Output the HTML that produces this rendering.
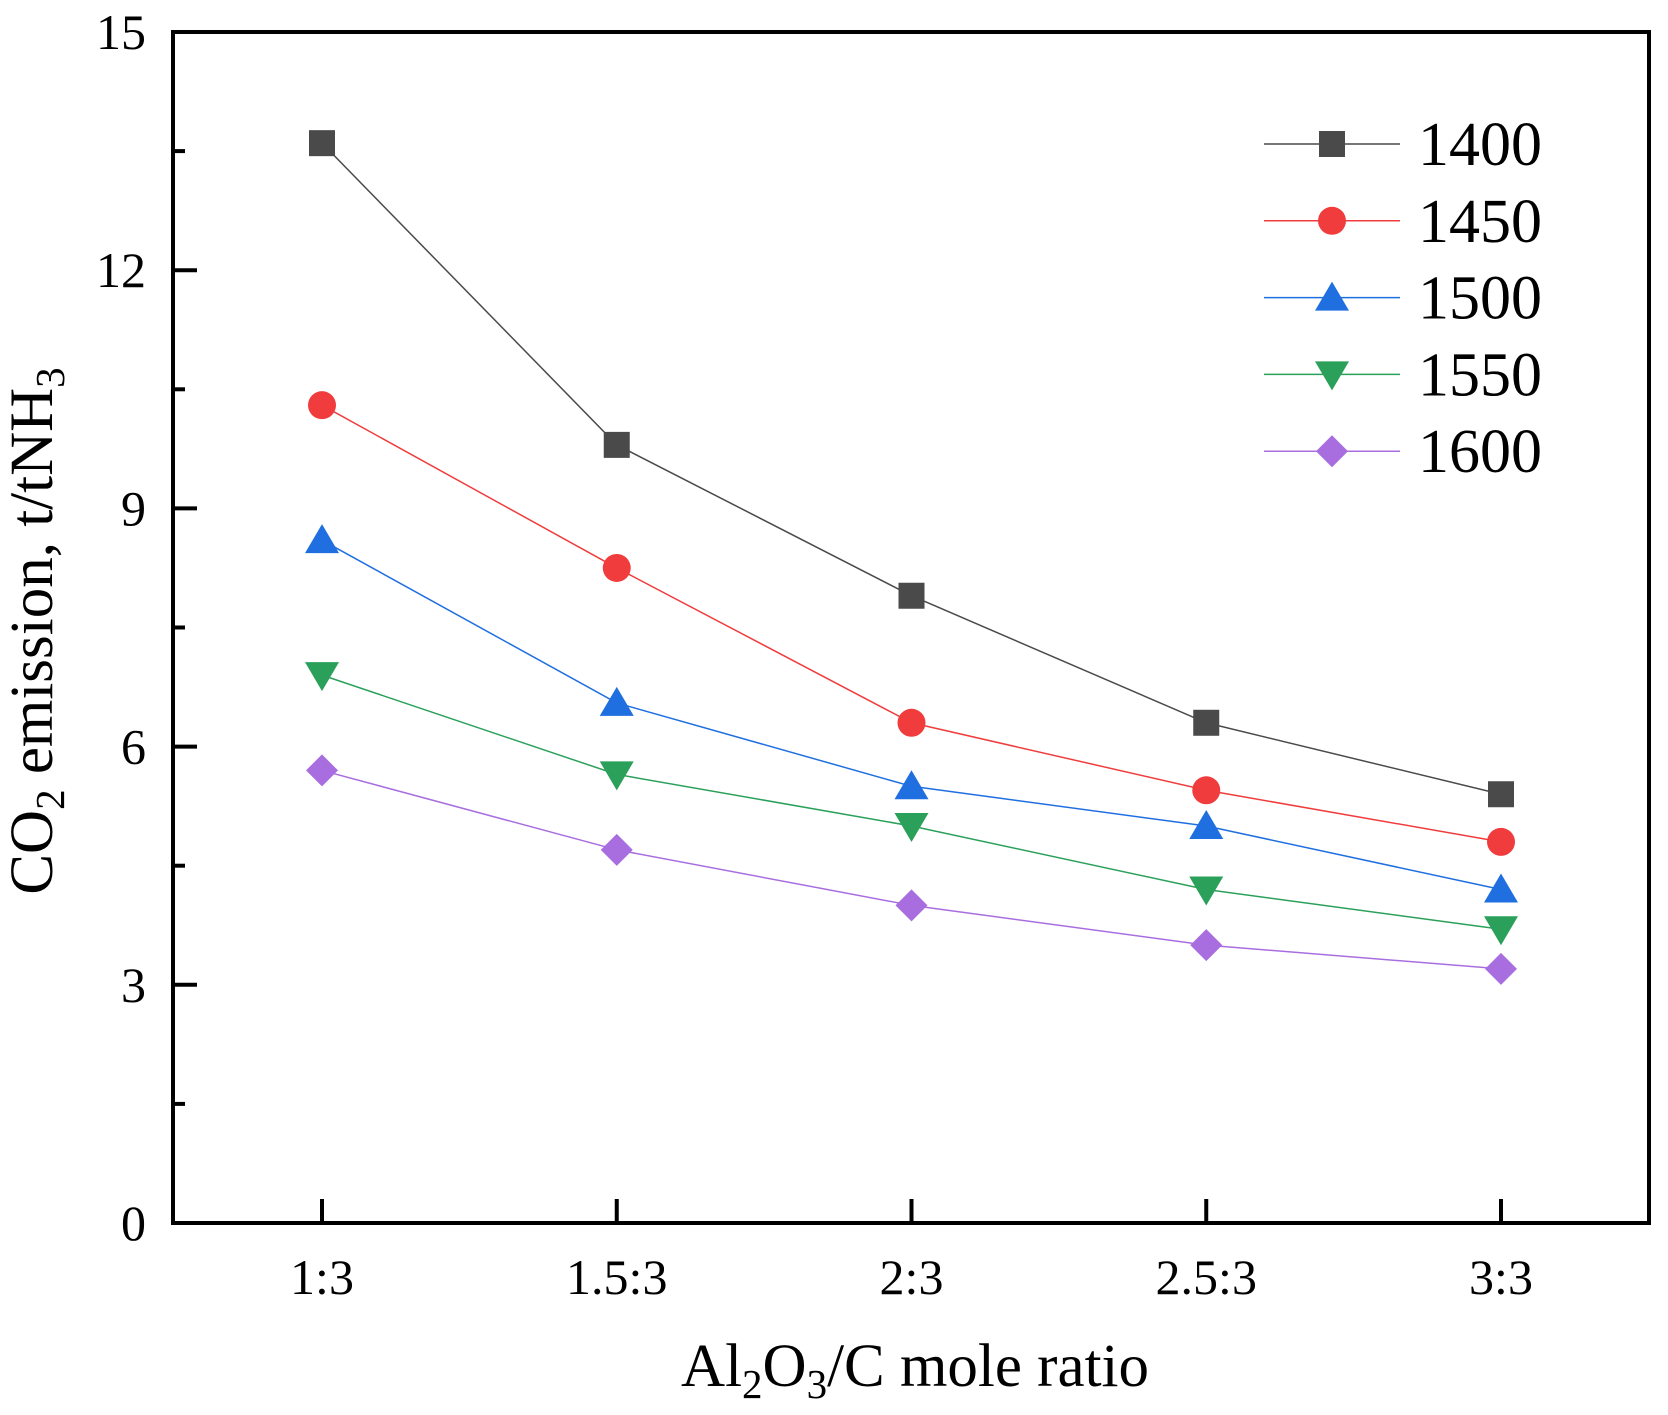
<!DOCTYPE html>
<html><head><meta charset="utf-8"><style>
html,body{margin:0;padding:0;background:#fff}
svg{display:block;font-family:"Liberation Serif",serif}
</style></head><body>
<svg id="chart" width="1668" height="1415" viewBox="0 0 1668 1415">
<g id="axes"></g><g id="series"></g><g id="legend"></g>
<text x="52" y="631" font-size="61" text-anchor="middle" transform="rotate(-90 52 631)">CO<tspan font-size="41" dy="12">2</tspan><tspan dy="-12"> emission, t/tNH</tspan><tspan font-size="41" dy="12">3</tspan></text>
<text x="915" y="1386" font-size="61" text-anchor="middle">Al<tspan font-size="41" dy="12">2</tspan><tspan dy="-12">O</tspan><tspan font-size="41" dy="12">3</tspan><tspan dy="-12">/C mole ratio</tspan></text>
</svg>
<script>
const categories=["1:3","1.5:3","2:3","2.5:3","3:3"];
const yTicks=[0,3,6,9,12,15];
const seriesNames=["1400","1450","1500","1550","1600"];
const s1400=[13.6,9.8,7.9,6.3,5.4];
const s1450=[10.3,8.25,6.3,5.45,4.8];
const s1500=[8.6,6.55,5.5,5.0,4.2];
const s1550=[6.9,5.65,5.0,4.2,3.7];
const s1600=[5.7,4.7,4.0,3.5,3.2];
const seriesData=[s1400,s1450,s1500,s1550,s1600];
const colors=["#4a4a4a","#f03c3c","#1f6fe0","#2aa05a","#a86ee0"];
const markers=["square","circle","up","down","diamond"];
const NS="http://www.w3.org/2000/svg";
const L=173,R=1649,T=32,B=1223;
const x=i=>322+i*(1501-322)/(categories.length-1);
const y=v=>B-(v/15)*(B-T);
function mk(tag,attrs,parent){const e=document.createElementNS(NS,tag);for(const k in attrs)e.setAttribute(k,attrs[k]);parent.appendChild(e);return e;}
const ax=document.getElementById('axes');
const frame=mk('rect',{x:L,y:T,width:R-L,height:B-T,fill:'none',stroke:'#000','stroke-width':4},ax);


yTicks.forEach(v=>{
 const t=mk('line',{x1:L,x2:L+24,y1:y(v),y2:y(v),stroke:'#000','stroke-width':4},ax);
 
 
 const lb=mk('text',{x:146,y:y(v)+17,'font-size':50,'text-anchor':'end'},ax);lb.textContent=v;
 
 
 if(v<15){const m=mk('line',{x1:L,x2:L+12,y1:y(v+1.5),y2:y(v+1.5),stroke:'#000','stroke-width':4},ax);
 
 }
});
categories.forEach((c,i)=>{
 const t=mk('line',{x1:x(i),x2:x(i),y1:B,y2:B-24,stroke:'#000','stroke-width':4},ax);
 
 
 const lb=mk('text',{x:x(i),y:1294,'font-size':50,'text-anchor':'middle'},ax);lb.textContent=c;
 
 
});
function marker(type,cx,cy,col,parent){
 let e;
 if(type==='square')e=mk('rect',{x:cx-13,y:cy-13,width:26,height:26,fill:col},parent);
 else if(type==='circle')e=mk('circle',{cx:cx,cy:cy,r:14,fill:col},parent);
 else if(type==='up')e=mk('polygon',{points:`${cx},${cy-16} ${cx-17},${cy+13} ${cx+17},${cy+13}`,fill:col},parent);
 else if(type==='down')e=mk('polygon',{points:`${cx},${cy+16} ${cx-17},${cy-13} ${cx+17},${cy-13}`,fill:col},parent);
 else e=mk('polygon',{points:`${cx},${cy-16} ${cx+16},${cy} ${cx},${cy+16} ${cx-16},${cy}`,fill:col},parent);
 return e;
}
const sg=document.getElementById('series');
seriesData.forEach((d,si)=>{
 const g=mk('g',{},sg);
 
 
 const pl=mk('polyline',{points:d.map((v,i)=>x(i)+','+y(v)).join(' '),fill:'none',stroke:colors[si],'stroke-width':1.5},g);
 
 
 d.forEach((v,i)=>{const m=marker(markers[si],x(i),y(v),colors[si],g);
  
  });
});
const lg=document.getElementById('legend');
seriesNames.forEach((n,si)=>{
 const ly=144+si*76.8;
 const g=mk('g',{},lg);
 
 
 mk('line',{x1:1264,x2:1400,y1:ly,y2:ly,stroke:colors[si],'stroke-width':1.5},g);
 marker(markers[si],1332,ly,colors[si],g);
 const t=mk('text',{x:1418,y:ly+21,'font-size':62},g);t.textContent=n;
});
</script>
</body></html>
